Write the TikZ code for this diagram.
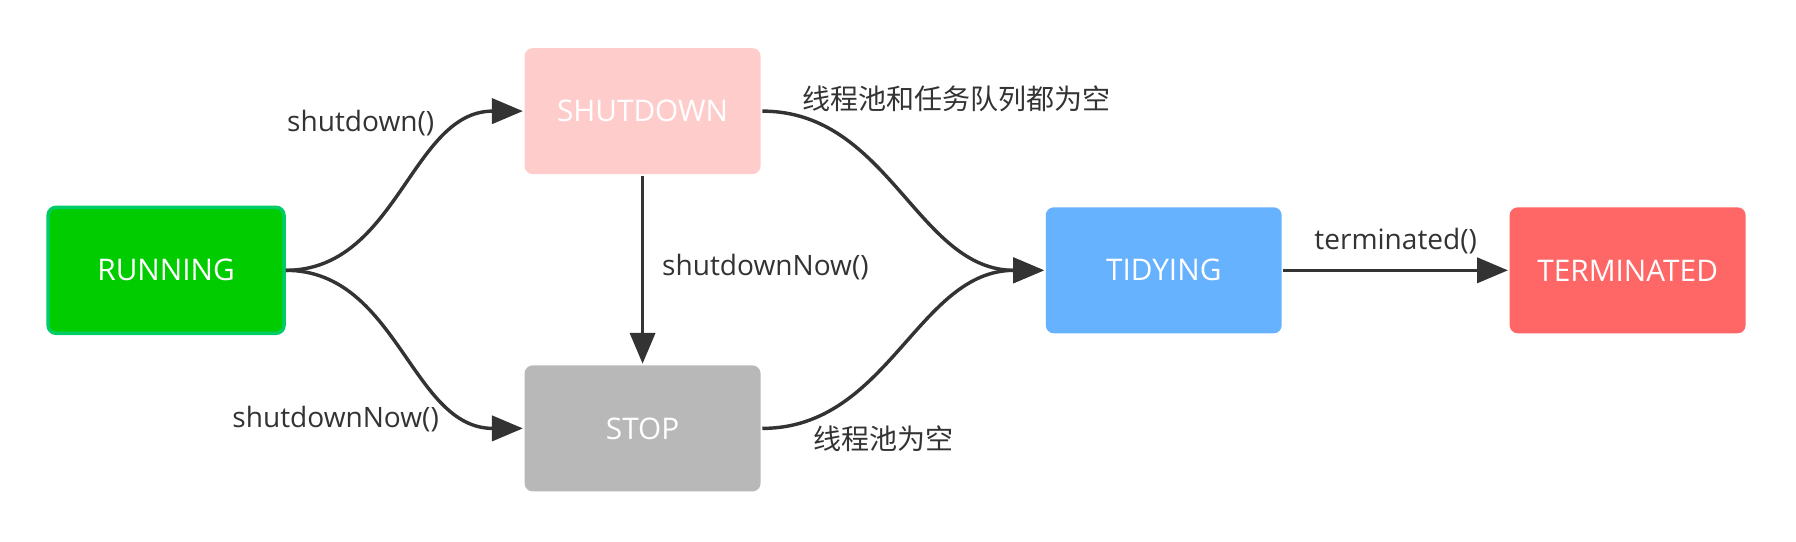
\documentclass[tikz,border=0pt]{standalone}
\usepackage{fontspec}
\setmainfont{Open Sans}
\newfontfamily\cjk{Noto Sans CJK SC}
\usetikzlibrary{arrows.meta}
\definecolor{linegray}{HTML}{333333}
\definecolor{runfill}{HTML}{00CC00}
\definecolor{runborder}{HTML}{00CC66}
\definecolor{shutfill}{HTML}{FFCCCC}
\definecolor{stopfill}{HTML}{B8B8B8}
\definecolor{tidyfill}{HTML}{66B2FF}
\definecolor{termfill}{HTML}{FF6666}
\begin{document}
\begin{tikzpicture}[x=0.5pt,y=-0.5pt,->,>={Triangle[length=13.5pt,width=11pt]},line width=1.5pt,color=linegray,state node/.style={rectangle,rounded corners=3.5pt,minimum width=103pt,minimum height=55pt,text=white,font=\fontsize{13pt}{15pt}\selectfont}]
  \useasboundingbox (0,0) rectangle (1568,473);
  \node[state node,fill=runfill,draw=runborder] (1) at (145,236) {RUNNING};
  \node[state node,fill=shutfill] (2) at (561,97) {SHUTDOWN};
  \node[state node,fill=stopfill] (3) at (561,374) {STOP};
  \node[state node,fill=tidyfill] (4) at (1016,236) {TIDYING};
  \node[state node,fill=termfill] (5) at (1421,236) {TERMINATED};

\path[every node/.style={font=\fontsize{12.25pt}{15pt}\selectfont,text=linegray}]
  (1) edge[out=0,in=180] node[pos=0.7,anchor=south east] {shutdown()} (2)
  (1) edge[out=0,in=180] node[pos=0.7,anchor=north east,xshift=2pt,yshift=-1pt] {shutdownNow()} (3)
  (2) edge node[anchor=west,xshift=4.5pt,yshift=1pt] {shutdownNow()} (3)
  (2) edge[out=0,in=180] node[pos=0.1,anchor=south west,xshift=-2pt,yshift=-2.5pt] {\cjk 线程池和任务队列都为空} (4)
  (3) edge[out=0,in=180] node[pos=0.12,anchor=north west,yshift=2.5pt] {\cjk 线程池为空} (4)
  (4) edge node[above,yshift=3pt] {terminated()} (5)
;
\end{tikzpicture}
\end{document}
